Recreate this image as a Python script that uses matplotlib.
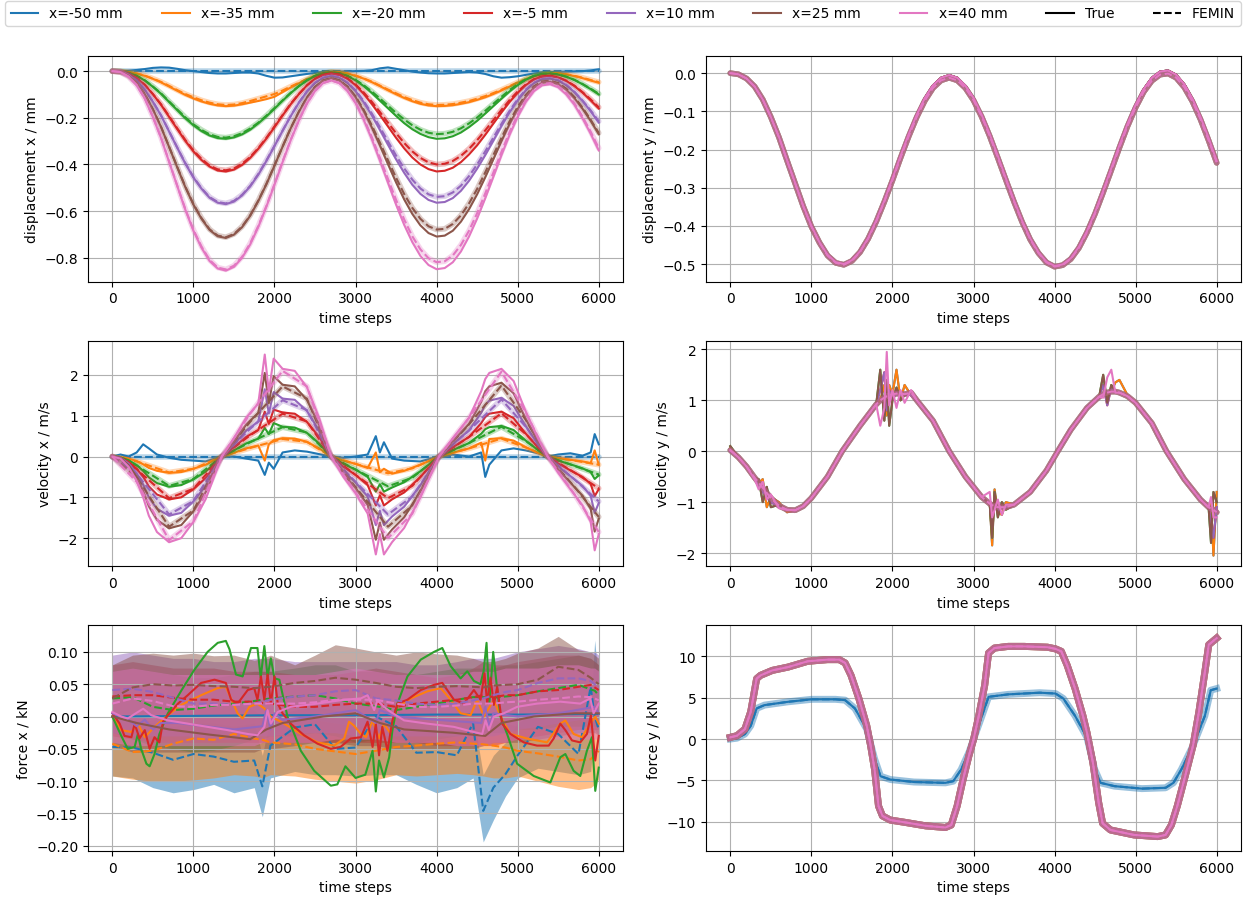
import numpy as np
import matplotlib
matplotlib.use('Agg')
import matplotlib.pyplot as plt
from matplotlib.lines import Line2D

#------------------------------------------------
# series names and colours
series = ['x=-50 mm', 'x=-35 mm', 'x=-20 mm', 'x=-5 mm', 'x=10 mm', 'x=25 mm', 'x=40 mm']
colors = ['C0', 'C1', 'C2', 'C3', 'C4', 'C5', 'C6']

#------------------------------------------------
# displacement x / mm, read every 100 time steps (order: -50, -35, -20, -5, 10, 25, 40)
t_disp = list(range(0, 6001, 100))

dispx_true = [
    [0.0, 0.0, 0.002, 0.005, 0.009, 0.014, 0.016, 0.015, 0.01, 0.004, 0.0, -0.004, -0.008, -0.01, -0.01,
     -0.008, -0.006, -0.006, -0.01, -0.02, -0.028, -0.027, -0.022, -0.017, -0.012, -0.008, -0.004, -0.002,
     -0.002, -0.001, 0.0, 0.001, 0.004, 0.012, 0.016, 0.01, 0.004, -0.002, -0.006, -0.009, -0.01,
     -0.01, -0.008, -0.006, -0.004, -0.006, -0.012, -0.022, -0.028, -0.026, -0.022, -0.016, -0.01, -0.006, -0.004,
     -0.003, -0.002, -0.001, 0.0, 0.003, 0.008],
    [0.0, -0.001, -0.004, -0.01, -0.02, -0.033, -0.048, -0.066, -0.084, -0.102, -0.117, -0.13, -0.14, -0.147, -0.15,
     -0.148, -0.142, -0.135, -0.128, -0.12, -0.11, -0.09, -0.07, -0.052, -0.035, -0.02, -0.009, -0.003,
     -0.004, -0.01, -0.02, -0.032, -0.047, -0.064, -0.082, -0.099, -0.115, -0.129, -0.14, -0.147, -0.15,
     -0.149, -0.146, -0.14, -0.133, -0.123, -0.112, -0.098, -0.083, -0.066, -0.05, -0.035, -0.022, -0.012, -0.008,
     -0.009, -0.014, -0.021, -0.03, -0.04, -0.05],
    [0.0, -0.001, -0.008, -0.02, -0.04, -0.067, -0.097, -0.132, -0.167, -0.202, -0.232, -0.257, -0.276, -0.287, -0.29,
     -0.284, -0.271, -0.251, -0.224, -0.194, -0.161, -0.127, -0.094, -0.065, -0.04, -0.021, -0.009, -0.005,
     -0.009, -0.021, -0.039, -0.064, -0.093, -0.126, -0.159, -0.192, -0.223, -0.249, -0.269, -0.283, -0.29,
     -0.288, -0.279, -0.263, -0.24, -0.213, -0.182, -0.15, -0.118, -0.087, -0.06, -0.037, -0.021, -0.012, -0.01,
     -0.015, -0.024, -0.038, -0.056, -0.077, -0.1],
    [0.0, -0.002, -0.012, -0.03, -0.059, -0.099, -0.144, -0.196, -0.248, -0.299, -0.344, -0.381, -0.409, -0.426, -0.43,
     -0.422, -0.402, -0.372, -0.333, -0.289, -0.24, -0.19, -0.142, -0.099, -0.061, -0.033, -0.016, -0.01,
     -0.016, -0.033, -0.06, -0.097, -0.14, -0.188, -0.237, -0.286, -0.331, -0.37, -0.4, -0.42, -0.43,
     -0.427, -0.414, -0.39, -0.357, -0.318, -0.273, -0.225, -0.177, -0.132, -0.093, -0.06, -0.036, -0.023, -0.02,
     -0.027, -0.042, -0.064, -0.092, -0.125, -0.16],
    [0.0, -0.003, -0.016, -0.04, -0.079, -0.131, -0.19, -0.259, -0.328, -0.396, -0.456, -0.504, -0.543, -0.564, -0.57,
     -0.559, -0.533, -0.494, -0.444, -0.385, -0.321, -0.256, -0.193, -0.136, -0.087, -0.05, -0.028, -0.02,
     -0.028, -0.05, -0.085, -0.133, -0.189, -0.251, -0.315, -0.378, -0.436, -0.487, -0.526, -0.552, -0.564,
     -0.561, -0.544, -0.513, -0.47, -0.418, -0.36, -0.298, -0.235, -0.177, -0.125, -0.082, -0.051, -0.034, -0.031,
     -0.04, -0.06, -0.09, -0.128, -0.172, -0.22],
    [0.0, -0.004, -0.02, -0.05, -0.099, -0.164, -0.239, -0.325, -0.412, -0.497, -0.572, -0.633, -0.681, -0.708, -0.715,
     -0.701, -0.669, -0.62, -0.557, -0.485, -0.405, -0.324, -0.245, -0.175, -0.114, -0.068, -0.04, -0.03,
     -0.04, -0.067, -0.112, -0.171, -0.241, -0.318, -0.398, -0.477, -0.55, -0.612, -0.661, -0.694, -0.709,
     -0.705, -0.684, -0.645, -0.592, -0.528, -0.455, -0.378, -0.3, -0.227, -0.163, -0.11, -0.071, -0.05, -0.046,
     -0.056, -0.08, -0.116, -0.161, -0.213, -0.27],
    [0.0, -0.004, -0.024, -0.06, -0.118, -0.197, -0.286, -0.389, -0.492, -0.594, -0.684, -0.757, -0.814, -0.846, -0.855,
     -0.839, -0.8, -0.743, -0.668, -0.581, -0.487, -0.39, -0.296, -0.212, -0.139, -0.085, -0.051, -0.04,
     -0.051, -0.085, -0.137, -0.208, -0.291, -0.383, -0.478, -0.572, -0.659, -0.733, -0.792, -0.831, -0.849,
     -0.844, -0.819, -0.773, -0.709, -0.632, -0.545, -0.453, -0.36, -0.273, -0.196, -0.132, -0.086, -0.061, -0.056,
     -0.069, -0.1, -0.144, -0.202, -0.268, -0.34],
]
dispx_femin = [
    [0.0, 0.0, 0.0, 0.0, 0.0, 0.0, 0.0, 0.0, 0.0, 0.0, 0.0, 0.0, 0.0, 0.0, 0.0,
     0.0, 0.0, 0.0, 0.0, 0.0, 0.0, 0.0, 0.0, 0.0, 0.0, 0.0, 0.0, 0.0,
     0.0, 0.0, 0.0, 0.0, 0.0, 0.0, 0.0, 0.0, 0.0, 0.0, 0.0, 0.0, 0.0,
     0.0, 0.0, 0.0, 0.0, 0.0, 0.0, 0.0, 0.0, 0.0, 0.0, 0.0, 0.0, 0.0, 0.0,
     0.0, 0.0, 0.0, 0.0, 0.0, 0.0],
    [0.0, -0.001, -0.004, -0.01, -0.019, -0.032, -0.046, -0.063, -0.081, -0.098, -0.112, -0.125, -0.135, -0.142, -0.145,
     -0.143, -0.137, -0.128, -0.118, -0.108, -0.098, -0.083, -0.066, -0.05, -0.034, -0.02, -0.009, -0.003,
     -0.004, -0.01, -0.019, -0.031, -0.045, -0.062, -0.079, -0.095, -0.111, -0.124, -0.135, -0.142, -0.145,
     -0.144, -0.141, -0.135, -0.128, -0.118, -0.107, -0.094, -0.08, -0.064, -0.048, -0.034, -0.021, -0.012, -0.008,
     -0.009, -0.013, -0.02, -0.028, -0.038, -0.047],
    [0.0, -0.001, -0.008, -0.02, -0.039, -0.066, -0.095, -0.13, -0.164, -0.198, -0.228, -0.252, -0.271, -0.282, -0.285,
     -0.279, -0.266, -0.246, -0.221, -0.191, -0.158, -0.125, -0.093, -0.064, -0.039, -0.02, -0.009, -0.005,
     -0.009, -0.02, -0.037, -0.06, -0.087, -0.117, -0.148, -0.179, -0.207, -0.232, -0.251, -0.264, -0.27,
     -0.268, -0.26, -0.245, -0.224, -0.199, -0.17, -0.14, -0.11, -0.081, -0.056, -0.035, -0.02, -0.012, -0.01,
     -0.014, -0.024, -0.037, -0.055, -0.075, -0.097],
    [0.0, -0.002, -0.012, -0.03, -0.059, -0.098, -0.142, -0.193, -0.245, -0.295, -0.34, -0.376, -0.405, -0.421, -0.425,
     -0.417, -0.397, -0.368, -0.33, -0.286, -0.237, -0.188, -0.14, -0.098, -0.061, -0.033, -0.016, -0.01,
     -0.015, -0.031, -0.057, -0.091, -0.131, -0.175, -0.221, -0.266, -0.308, -0.344, -0.372, -0.391, -0.4,
     -0.397, -0.385, -0.363, -0.333, -0.296, -0.254, -0.21, -0.166, -0.124, -0.087, -0.057, -0.035, -0.023, -0.02,
     -0.027, -0.041, -0.062, -0.09, -0.121, -0.155],
    [0.0, -0.003, -0.016, -0.04, -0.078, -0.13, -0.189, -0.258, -0.327, -0.394, -0.454, -0.502, -0.54, -0.561, -0.567,
     -0.556, -0.53, -0.492, -0.441, -0.383, -0.32, -0.255, -0.192, -0.135, -0.087, -0.05, -0.028, -0.02,
     -0.027, -0.049, -0.082, -0.128, -0.181, -0.24, -0.301, -0.362, -0.417, -0.465, -0.503, -0.528, -0.539,
     -0.536, -0.52, -0.491, -0.45, -0.4, -0.344, -0.285, -0.226, -0.17, -0.12, -0.079, -0.05, -0.034, -0.031,
     -0.039, -0.059, -0.088, -0.126, -0.168, -0.215],
    [0.0, -0.004, -0.02, -0.05, -0.098, -0.164, -0.238, -0.324, -0.41, -0.495, -0.57, -0.63, -0.678, -0.705, -0.712,
     -0.698, -0.666, -0.618, -0.555, -0.483, -0.404, -0.323, -0.244, -0.174, -0.113, -0.068, -0.04, -0.03,
     -0.039, -0.066, -0.108, -0.165, -0.232, -0.306, -0.382, -0.457, -0.527, -0.586, -0.633, -0.665, -0.679,
     -0.676, -0.655, -0.618, -0.567, -0.505, -0.434, -0.36, -0.286, -0.215, -0.153, -0.102, -0.065, -0.044, -0.041,
     -0.051, -0.075, -0.111, -0.156, -0.208, -0.265],
    [0.0, -0.004, -0.024, -0.06, -0.117, -0.196, -0.284, -0.387, -0.49, -0.591, -0.68, -0.752, -0.809, -0.842, -0.85,
     -0.834, -0.796, -0.738, -0.664, -0.578, -0.484, -0.387, -0.294, -0.211, -0.139, -0.085, -0.051, -0.04,
     -0.051, -0.083, -0.134, -0.201, -0.282, -0.371, -0.462, -0.552, -0.636, -0.708, -0.764, -0.802, -0.819,
     -0.815, -0.79, -0.745, -0.684, -0.609, -0.524, -0.435, -0.346, -0.261, -0.186, -0.125, -0.08, -0.055, -0.051,
     -0.064, -0.094, -0.138, -0.195, -0.259, -0.33],
]

#------------------------------------------------
# displacement y / mm (all positions practically on top of each other)
dispy_true = [0.0, -0.003, -0.014, -0.035, -0.069, -0.115, -0.167, -0.228, -0.288, -0.348, -0.4, -0.443, -0.476, -0.495, -0.5,
              -0.49, -0.467, -0.432, -0.386, -0.334, -0.276, -0.217, -0.16, -0.109, -0.065, -0.032, -0.012, -0.005,
              -0.012, -0.033, -0.065, -0.109, -0.16, -0.217, -0.276, -0.334, -0.387, -0.433, -0.469, -0.494, -0.505,
              -0.501, -0.485, -0.455, -0.414, -0.364, -0.308, -0.249, -0.189, -0.133, -0.083, -0.042, -0.012, 0.004, 0.007,
              -0.004, -0.029, -0.067, -0.115, -0.17, -0.23]
dispy_femin = [0.0, -0.003, -0.014, -0.035, -0.069, -0.115, -0.168, -0.229, -0.289, -0.349, -0.402, -0.444, -0.478, -0.497, -0.502,
               -0.492, -0.469, -0.434, -0.389, -0.337, -0.281, -0.222, -0.166, -0.115, -0.072, -0.039, -0.019, -0.012,
               -0.019, -0.039, -0.071, -0.114, -0.165, -0.222, -0.28, -0.337, -0.39, -0.436, -0.471, -0.496, -0.507,
               -0.503, -0.487, -0.458, -0.417, -0.368, -0.312, -0.254, -0.195, -0.139, -0.09, -0.049, -0.02, -0.004, -0.001,
               -0.012, -0.037, -0.074, -0.121, -0.176, -0.235]

#------------------------------------------------
# velocity x / m/s
t_vx = [0, 100, 200, 300, 380, 450, 550, 700, 850, 1000, 1150, 1350, 1500, 1650, 1800, 1880, 1930, 1990, 2100, 2250,
        2400, 2550, 2700, 2850, 3000, 3150, 3250, 3300, 3350, 3450, 3600, 3800, 4030, 4200, 4400, 4550, 4600, 4650, 4800, 4950,
        5100, 5250, 5370, 5500, 5650, 5800, 5900, 5950, 6000]
velx_true = [
    [0.0, 0.05, 0.0, 0.1, 0.3, 0.2, 0.05, -0.03, -0.08, -0.1, -0.12, 0.0, 0.0, -0.05, -0.1, -0.45, -0.15, -0.3, 0.1, 0.15,
     0.12, 0.06, 0.0, -0.03, 0.0, 0.05, 0.5, 0.1, 0.35, -0.05, -0.1, -0.12, 0.0, 0.05, 0.0, 0.1, -0.5, -0.2, 0.15, 0.2,
     0.15, 0.08, 0.0, 0.05, 0.08, 0.02, 0.1, 0.55, 0.3],
    [0.0, -0.01, -0.05, -0.11, -0.19, -0.28, -0.35, -0.4, -0.38, -0.3, -0.2, 0.0, 0.09, 0.2, 0.27, -0.1, 0.3, 0.4, 0.45, 0.44,
     0.36, 0.2, 0.0, -0.1, -0.18, -0.28, 0.1, -0.38, -0.3, -0.42, -0.35, -0.2, 0.0, 0.09, 0.2, 0.34, -0.1, 0.43, 0.45, 0.39,
     0.23, 0.09, 0.0, -0.04, -0.08, -0.12, -0.16, 0.15, -0.2],
    [0.0, -0.02, -0.09, -0.21, -0.35, -0.51, -0.65, -0.74, -0.7, -0.56, -0.37, 0.0, 0.15, 0.32, 0.44, 0.7, 0.55, 0.82, 0.73, 0.71,
     0.58, 0.32, 0.0, -0.18, -0.32, -0.5, -0.86, -0.68, -0.86, -0.76, -0.63, -0.36, 0.0, 0.16, 0.33, 0.56, 0.67, 0.72, 0.75, 0.65,
     0.39, 0.16, 0.0, -0.1, -0.19, -0.29, -0.38, -0.55, -0.46],
    [0.0, -0.03, -0.13, -0.3, -0.5, -0.73, -0.93, -1.05, -1.0, -0.8, -0.53, 0.0, 0.23, 0.48, 0.65, 1.1, 0.8, 1.15, 1.08, 1.05,
     0.85, 0.48, 0.0, -0.25, -0.45, -0.7, -1.2, -0.95, -1.2, -1.05, -0.88, -0.5, 0.0, 0.23, 0.48, 0.82, 0.97, 1.05, 1.1, 0.94,
     0.56, 0.23, 0.0, -0.17, -0.34, -0.5, -0.67, -0.97, -0.8],
    [0.0, -0.03, -0.17, -0.41, -0.69, -1.0, -1.28, -1.45, -1.38, -1.1, -0.72, 0.0, 0.3, 0.63, 0.86, 1.65, 1.06, 1.58, 1.42, 1.39,
     1.12, 0.63, 0.0, -0.35, -0.63, -0.98, -1.68, -1.33, -1.68, -1.47, -1.23, -0.7, 0.0, 0.3, 0.64, 1.07, 1.27, 1.37, 1.44, 1.24,
     0.74, 0.3, 0.0, -0.24, -0.48, -0.72, -0.96, -1.38, -1.14],
    [0.0, -0.04, -0.21, -0.5, -0.84, -1.22, -1.55, -1.76, -1.68, -1.34, -0.88, 0.0, 0.37, 0.78, 1.07, 2.05, 1.31, 1.97, 1.76, 1.72,
     1.39, 0.78, 0.0, -0.43, -0.77, -1.19, -2.04, -1.62, -2.04, -1.79, -1.49, -0.85, 0.0, 0.38, 0.8, 1.34, 1.6, 1.72, 1.81, 1.55,
     0.92, 0.38, 0.0, -0.32, -0.64, -0.96, -1.28, -1.84, -1.52],
    [0.0, -0.05, -0.25, -0.6, -1.0, -1.45, -1.85, -2.1, -2.0, -1.6, -1.05, 0.0, 0.45, 0.95, 1.3, 2.5, 1.6, 2.4, 2.15, 2.1,
     1.7, 0.95, 0.0, -0.5, -0.9, -1.4, -2.4, -1.9, -2.4, -2.1, -1.75, -1.0, 0.0, 0.45, 0.95, 1.6, 1.9, 2.05, 2.15, 1.85,
     1.1, 0.45, 0.0, -0.4, -0.8, -1.2, -1.6, -2.3, -1.9],
]
t_vx_femin = [0, 300, 700, 1000, 1350, 1700, 2100, 2400, 2700, 3000, 3400, 3700, 4030, 4400, 4800, 5100, 5370, 5700, 6000]
velx_femin = [
    [0.0, 0.0, 0.0, 0.0, 0.0, 0.0, 0.0, 0.0, 0.0, 0.0, 0.0, 0.0, 0.0, 0.0, 0.0, 0.0, 0.0, 0.0, 0.0],
    [0.0, -0.12, -0.39, -0.3, 0.0, 0.21, 0.43, 0.36, 0.0, -0.18, -0.41, -0.29, 0.0, 0.2, 0.44, 0.22, 0.0, -0.1, -0.2],
    [0.0, -0.22, -0.72, -0.55, 0.0, 0.35, 0.72, 0.59, 0.0, -0.32, -0.73, -0.52, 0.0, 0.33, 0.73, 0.38, 0.0, -0.23, -0.44],
    [0.0, -0.31, -1.02, -0.79, 0.0, 0.52, 1.05, 0.86, 0.0, -0.45, -1.02, -0.72, 0.0, 0.48, 1.06, 0.55, 0.0, -0.39, -0.78],
    [0.0, -0.42, -1.42, -1.09, 0.0, 0.68, 1.38, 1.14, 0.0, -0.62, -1.42, -0.98, 0.0, 0.64, 1.4, 0.73, 0.0, -0.56, -1.1],
    [0.0, -0.51, -1.72, -1.32, 0.0, 0.85, 1.72, 1.42, 0.0, -0.75, -1.72, -1.2, 0.0, 0.79, 1.74, 0.9, 0.0, -0.74, -1.48],
    [0.0, -0.62, -2.05, -1.58, 0.0, 1.05, 2.1, 1.72, 0.0, -0.88, -2.0, -1.4, 0.0, 0.95, 2.08, 1.08, 0.0, -0.92, -1.85],
]

#------------------------------------------------
# velocity y / m/s
t_vy = [0, 100, 200, 300, 350, 400, 450, 500, 600, 700, 800, 900, 1000, 1200, 1380, 1600, 1800, 1850, 1900, 1930, 1960,
        2000, 2050, 2100, 2150, 2230, 2300, 2500, 2700, 2900, 3100, 3200, 3230, 3260, 3300, 3350, 3400, 3500, 3700, 3900, 4040,
        4200, 4400, 4550, 4600, 4650, 4700, 4750, 4800, 4900, 5000, 5200, 5380, 5600, 5800, 5900, 5930, 5960, 6000]
vy_base = [0.02, -0.12, -0.3, -0.52, -0.62, -0.72, -0.82, -0.92, -1.07, -1.15, -1.16, -1.08,
           -0.92, -0.5, 0.0, 0.5, 0.92, 1.0, 1.05, 1.08, 1.1,
           1.12, 1.13, 1.13, 1.12, 1.15, 1.0, 0.6, 0.0, -0.5, -0.9,
           -1.03, -1.06, -1.08, -1.1, -1.1, -1.1, -1.05, -0.8, -0.38, 0.0,
           0.42, 0.85, 1.07, 1.12, 1.15, 1.17, 1.17, 1.15, 1.08, 0.95,
           0.55, 0.0, -0.55, -0.95, -1.1, -1.13, -1.15, -1.2]
vy_blue = [0.08, -0.12, -0.3, -0.52, -0.62, -0.55, -1.1, -0.9, -1.0, -1.2, -1.16, -1.08,
           -0.92, -0.5, 0.0, 0.5, 0.92, 1.0, 1.3, 0.7, 1.3,
           1.12, 1.6, 1.0, 1.3, 1.1, 1.0, 0.6, 0.0, -0.5, -0.9,
           -1.03, -1.85, -0.75, -1.2, -1.25, -1.0, -1.05, -0.8, -0.38, 0.0,
           0.42, 0.85, 1.07, 1.12, 1.1, 1.17, 1.35, 1.4, 1.1, 0.95,
           0.55, 0.0, -0.55, -0.95, -1.1, -1.0, -2.05, -0.8]
vy_green = [0.1, -0.12, -0.3, -0.52, -0.55, -1.0, -0.7, -1.1, -1.05, -1.15, -1.16, -1.08,
            -0.92, -0.5, 0.0, 0.5, 0.92, 1.6, 0.6, 1.4, 0.5,
            1.0, 1.25, 1.0, 1.1, 1.15, 1.0, 0.6, 0.0, -0.5, -0.9,
            -1.03, -1.7, -0.8, -1.3, -1.0, -1.15, -1.05, -0.8, -0.38, 0.0,
            0.42, 0.85, 1.07, 1.5, 0.95, 1.3, 1.17, 1.15, 1.08, 0.95,
            0.55, 0.0, -0.55, -0.95, -1.1, -1.8, -0.8, -1.0]
vy_red = [0.0, -0.12, -0.3, -0.52, -0.7, -0.8, -0.9, -1.0, -1.1, -1.15, -1.16, -1.08,
          -0.92, -0.5, 0.0, 0.5, 0.92, 1.2, 1.55, 0.8, 1.2,
          1.0, 1.15, 1.1, 1.12, 1.1, 1.0, 0.6, 0.0, -0.5, -0.9,
          -1.03, -1.5, -0.9, -1.2, -1.1, -1.1, -1.05, -0.8, -0.38, 0.0,
          0.42, 0.85, 1.07, 1.3, 0.9, 1.25, 1.17, 1.15, 1.08, 0.95,
          0.55, 0.0, -0.55, -0.95, -1.1, -1.4, -1.7, -1.1]
vy_pink = [0.02, -0.12, -0.3, -0.55, -0.75, -0.6, -0.95, -0.85, -1.12, -1.15, -1.16, -1.08,
           -0.92, -0.5, 0.0, 0.5, 0.92, 0.5, 0.85, 1.95, 0.9,
           1.2, 0.85, 1.2, 0.95, 1.2, 1.0, 0.6, 0.0, -0.5, -0.9,
           -0.8, -1.3, -1.15, -0.95, -1.25, -1.05, -1.05, -0.8, -0.38, 0.0,
           0.42, 0.85, 1.07, 1.05, 1.45, 1.6, 1.15, 1.15, 1.08, 0.95,
           0.55, 0.0, -0.55, -0.95, -1.1, -0.9, -1.3, -1.3]
vely_true = [vy_blue, vy_blue, vy_green, vy_red, vy_red, vy_green, vy_pink]

#------------------------------------------------
# force x / kN  -- True curves, each with its own sample times
fx_true_t = [
    [0, 1000, 2000, 3000, 4000, 5000, 6000],
    [0, 110, 235, 315, 400, 520, 685, 850, 1095, 1300, 1400, 1480, 1545, 1607, 1690, 1790, 1875, 1955, 2120, 2325,
     2530, 2735, 2860, 2920, 2980, 3066, 3128, 3210, 3290, 3350, 3435, 3517, 3681, 3886, 4050, 4173, 4296, 4419, 4501, 4583,
     4706, 4788, 4911, 5116, 5362, 5526, 5588, 5690, 5793, 5895, 5957, 6000],
    [0, 110, 190, 275, 315, 355, 420, 460, 520, 580, 685, 850, 1010, 1175, 1300, 1400, 1445, 1525, 1607, 1710,
     1790, 1830, 1875, 1915, 1955, 2000, 2060, 2160, 2325, 2490, 2695, 2775, 2875, 3000, 3120, 3210, 3250, 3290, 3350, 3415,
     3455, 3517, 3640, 3804, 3968, 4070, 4173, 4296, 4378, 4460, 4540, 4580, 4616, 4650, 4698, 4740, 4788, 4870, 4993, 5198,
     5403, 5526, 5588, 5690, 5772, 5854, 5916, 5957, 6000],
    [0, 90, 150, 235, 275, 335, 400, 460, 520, 580, 625, 685, 810, 930, 1095, 1260, 1400, 1465, 1545, 1670,
     1750, 1790, 1833, 1875, 1915, 1955, 2000, 2040, 2100, 2200, 2365, 2530, 2695, 2815, 2940, 3066, 3148, 3210, 3250, 3290,
     3330, 3394, 3455, 3517, 3640, 3804, 3968, 4070, 4214, 4337, 4460, 4542, 4591, 4624, 4665, 4706, 4747, 4808, 4911, 5075,
     5239, 5383, 5444, 5526, 5588, 5670, 5772, 5854, 5903, 5957, 6000],
    [0, 200, 300, 400, 500, 600, 800, 1500, 1850, 1900, 1950, 2000, 2100, 2500, 3000, 3250, 3300, 3500, 4000, 4550,
     4600, 4650, 4700, 5000, 5500, 5950, 6000],
    [0, 300, 700, 1200, 1700, 1900, 2100, 2600, 3000, 3300, 3600, 4200, 4600, 4800, 5200, 5700, 6000],
    [0, 110, 190, 315, 380, 480, 685, 930, 1175, 1420, 1670, 1790, 1875, 1915, 1955, 2040, 2200, 2530, 2860, 3066,
     3148, 3230, 3271, 3350, 3435, 3599, 3886, 4214, 4460, 4563, 4604, 4644, 4706, 4829, 4993, 5239, 5526, 5772, 5895, 5936,
     6000],
]
fx_true = [
    [0.0, 0.001, 0.002, 0.002, 0.003, 0.003, 0.004],
    [0.0, -0.021, -0.024, -0.011, -0.032, -0.016, 0.002, 0.018, 0.033, 0.044, 0.046, 0.023, 0.005, -0.003, 0.015, 0.02, 0.0125, 0.0, -0.011, -0.027,
     -0.04, -0.045, -0.034, -0.008, -0.014, -0.027, -0.032, -0.006, -0.034, -0.011, -0.027, 0.015, 0.028, 0.039, 0.044, 0.026, 0.005, 0.002, 0.026, 0.0,
     0.026, 0.0, -0.027, -0.034, -0.04, -0.011, -0.006, -0.027, -0.032, -0.011, 0.0, -0.011],
    [0.0, -0.03, -0.05, -0.047, -0.027, -0.05, -0.073, -0.077, -0.058, -0.027, 0.005, 0.04, 0.072, 0.1, 0.114, 0.117, 0.104, 0.065, 0.062, 0.106,
     0.106, 0.06, 0.109, 0.062, 0.09, 0.059, 0.057, 0.0, -0.053, -0.084, -0.107, -0.105, -0.077, -0.095, -0.09, -0.053, -0.116, -0.068, -0.094, -0.063,
     -0.021, 0.02, 0.062, 0.088, 0.1, 0.106, 0.078, 0.059, 0.07, 0.055, 0.05, 0.07, 0.114, 0.02, 0.1, 0.05, 0.0, -0.027, -0.073, -0.092,
     -0.102, -0.063, -0.058, -0.084, -0.092, -0.053, -0.032, -0.115, -0.079],
    [0.005, -0.011, -0.03, -0.032, -0.011, -0.034, -0.021, -0.05, -0.032, -0.04, -0.008, 0.002, 0.02, 0.033, 0.052, 0.057, 0.052, 0.026, 0.02, 0.041,
     0.044, 0.026, 0.062, 0.026, 0.065, 0.02, 0.062, 0.02, 0.005, -0.011, -0.029, -0.042, -0.05, -0.047, -0.034, -0.032, -0.008, -0.047, -0.011, -0.06,
     -0.016, -0.053, -0.006, 0.02, 0.026, 0.041, 0.049, 0.052, 0.026, 0.02, 0.041, 0.026, 0.067, 0.02, 0.06, 0.018, 0.046, -0.011, -0.027, -0.04,
     -0.045, -0.045, -0.034, -0.011, -0.021, -0.037, -0.04, -0.027, 0.002, -0.068, -0.03],
    [0.005, -0.005, -0.015, -0.005, -0.02, -0.01, -0.01, -0.02, -0.015, 0.01, -0.02, 0.005, -0.005, 0.0, 0.01, -0.01, 0.01, 0.0, -0.005, -0.01,
     0.015, -0.015, 0.005, 0.0, 0.005, 0.015, 0.005],
    [0.0, -0.01, -0.02, -0.028, -0.035, -0.02, -0.01, 0.0, 0.005, -0.01, -0.02, -0.025, -0.03, -0.01, 0.0, 0.005, 0.005],
    [0.007, 0.0, -0.003, 0.007, 0.012, 0.002, -0.006, -0.011, -0.016, -0.021, -0.027, -0.029, -0.016, 0.01, -0.011, 0.007, 0.015, 0.02, 0.026, 0.028,
     0.033, 0.01, 0.025, 0.015, 0.007, -0.006, -0.011, -0.016, -0.024, -0.027, -0.006, -0.021, 0.0, 0.005, 0.015, 0.02, 0.023, 0.02, 0.028, 0.005,
     0.02],
]

# force x -- FEMIN mean and band (lower / upper)
t_fx_femin = [0, 250, 500, 750, 1000, 1250, 1500, 1750, 1850, 1950, 2250, 2500, 2750, 3000, 3250, 3500, 3750, 4000, 4250, 4450,
              4575, 4700, 4850, 5000, 5250, 5500, 5750, 5900, 5950, 6000]
fx_femin = [
    [-0.047, -0.048, -0.056, -0.067, -0.058, -0.062, -0.07, -0.068, -0.108, -0.045, -0.017, -0.012, -0.05, -0.048, 0.0, -0.015, -0.056, -0.055, -0.06, -0.01,
     -0.146, -0.11, -0.089, -0.06, -0.016, -0.027, -0.058, 0.046, 0.0, -0.02],
    [-0.042, -0.055, -0.053, -0.042, -0.034, -0.036, -0.027, -0.034, -0.036, -0.04, -0.043, -0.05, -0.054, -0.058, -0.053, -0.047, -0.045, -0.042, -0.04, -0.042,
     -0.043, -0.045, -0.048, -0.053, -0.057, -0.062, -0.068, -0.066, -0.06, -0.053],
    [0.028, 0.03, 0.015, 0.01, 0.012, 0.017, 0.02, 0.024, 0.026, 0.028, 0.031, 0.033, 0.028, 0.02, 0.016, 0.01, 0.015, 0.02, 0.026, 0.03,
     0.03, 0.029, 0.031, 0.033, 0.039, 0.044, 0.049, 0.042, 0.04, 0.033],
    [0.031, 0.033, 0.033, 0.029, 0.026, 0.026, 0.023, 0.023, 0.021, 0.02, 0.015, 0.015, 0.018, 0.02, 0.02, 0.015, 0.02, 0.023, 0.026, 0.03,
     0.033, 0.03, 0.033, 0.033, 0.039, 0.041, 0.046, 0.049, 0.045, 0.041],
    [0.041, 0.043, 0.038, 0.029, 0.02, 0.02, 0.018, 0.02, 0.023, 0.026, 0.031, 0.033, 0.039, 0.041, 0.028, 0.025, 0.02, 0.018, 0.02, 0.025,
     0.028, 0.033, 0.038, 0.041, 0.052, 0.059, 0.059, 0.055, 0.05, 0.046],
    [0.028, 0.045, 0.05, 0.048, 0.049, 0.047, 0.046, 0.044, 0.045, 0.046, 0.052, 0.055, 0.06, 0.057, 0.052, 0.046, 0.044, 0.046, 0.047, 0.046,
     0.045, 0.048, 0.049, 0.05, 0.057, 0.077, 0.072, 0.06, 0.055, 0.05],
    [0.02, 0.028, 0.024, 0.016, 0.015, 0.018, 0.018, 0.02, 0.02, 0.02, 0.02, 0.022, 0.026, 0.026, 0.026, 0.02, 0.015, 0.015, 0.017, 0.02,
     0.02, 0.02, 0.022, 0.023, 0.026, 0.028, 0.031, 0.03, 0.028, 0.025],
]
fx_lo = [
    [-0.092, -0.095, -0.11, -0.118, -0.113, -0.105, -0.118, -0.11, -0.155, -0.095, -0.085, -0.09, -0.09, -0.092, -0.09, -0.09, -0.105, -0.118, -0.11, -0.095,
     -0.194, -0.16, -0.123, -0.095, -0.08, -0.085, -0.09, -0.085, -0.02, -0.03],
    [-0.092, -0.097, -0.1, -0.1, -0.098, -0.095, -0.09, -0.092, -0.095, -0.09, -0.092, -0.097, -0.1, -0.103, -0.098, -0.09, -0.092, -0.09, -0.088, -0.09,
     -0.092, -0.095, -0.095, -0.092, -0.1, -0.108, -0.113, -0.11, -0.105, -0.097],
    [-0.025, -0.035, -0.045, -0.05, -0.055, -0.052, -0.045, -0.035, -0.035, -0.03, -0.03, -0.025, -0.03, -0.04, -0.035, -0.035, -0.04, -0.035, -0.03, -0.025,
     -0.025, -0.025, -0.025, -0.02, -0.02, -0.015, -0.015, -0.015, -0.015, -0.015],
    [-0.03, -0.035, -0.04, -0.04, -0.04, -0.04, -0.04, -0.04, -0.04, -0.04, -0.04, -0.04, -0.04, -0.04, -0.04, -0.04, -0.04, -0.045, -0.045, -0.045,
     -0.045, -0.045, -0.04, -0.035, -0.03, -0.025, -0.02, -0.02, -0.02, -0.02],
    [-0.025, -0.03, -0.03, -0.03, -0.03, -0.035, -0.035, -0.03, -0.03, -0.03, -0.025, -0.025, -0.025, -0.03, -0.03, -0.03, -0.03, -0.03, -0.03, -0.03,
     -0.03, -0.03, -0.025, -0.02, -0.015, -0.01, -0.005, -0.005, -0.005, -0.01],
    [-0.045, -0.055, -0.055, -0.055, -0.055, -0.055, -0.055, -0.055, -0.05, -0.05, -0.045, -0.04, -0.04, -0.045, -0.045, -0.05, -0.05, -0.05, -0.05, -0.05,
     -0.045, -0.04, -0.04, -0.04, -0.035, -0.03, -0.025, -0.025, -0.025, -0.03],
    [-0.04, -0.045, -0.045, -0.045, -0.045, -0.045, -0.045, -0.045, -0.04, -0.04, -0.04, -0.04, -0.035, -0.035, -0.035, -0.04, -0.04, -0.04, -0.045, -0.045,
     -0.045, -0.04, -0.04, -0.035, -0.035, -0.035, -0.035, -0.035, -0.035, -0.035],
]
fx_hi = [
    [-0.005, -0.005, -0.01, -0.015, -0.01, -0.01, -0.015, -0.01, -0.06, 0.0, 0.01, 0.015, 0.01, 0.0, 0.005, 0.01, 0.0, -0.01, -0.01, 0.005,
     -0.09, -0.06, -0.04, -0.01, 0.01, 0.01, 0.0, 0.01, 0.118, 0.05],
    [-0.005, -0.01, -0.005, 0.005, 0.01, 0.015, 0.02, 0.01, 0.0, 0.005, 0.0, -0.005, -0.01, -0.015, -0.01, -0.005, 0.0, 0.005, 0.0, -0.005,
     -0.01, -0.005, -0.01, -0.015, -0.02, -0.02, -0.025, -0.02, -0.015, -0.01],
    [0.07, 0.075, 0.07, 0.065, 0.06, 0.06, 0.065, 0.07, 0.07, 0.07, 0.075, 0.08, 0.08, 0.07, 0.07, 0.065, 0.065, 0.07, 0.075, 0.075,
     0.075, 0.075, 0.08, 0.08, 0.085, 0.09, 0.095, 0.09, 0.085, 0.08],
    [0.08, 0.085, 0.08, 0.075, 0.075, 0.075, 0.07, 0.07, 0.07, 0.07, 0.065, 0.065, 0.065, 0.07, 0.075, 0.07, 0.065, 0.06, 0.065, 0.075,
     0.085, 0.08, 0.08, 0.085, 0.09, 0.095, 0.095, 0.09, 0.085, 0.08],
    [0.095, 0.1, 0.095, 0.09, 0.09, 0.085, 0.085, 0.09, 0.09, 0.09, 0.085, 0.085, 0.085, 0.085, 0.085, 0.085, 0.08, 0.08, 0.085, 0.09,
     0.09, 0.09, 0.095, 0.1, 0.105, 0.11, 0.105, 0.1, 0.1, 0.095],
    [0.08, 0.095, 0.098, 0.095, 0.098, 0.094, 0.095, 0.087, 0.09, 0.095, 0.08, 0.095, 0.111, 0.106, 0.1, 0.095, 0.1, 0.097, 0.095, 0.09,
     0.085, 0.085, 0.09, 0.098, 0.106, 0.124, 0.103, 0.1, 0.095, 0.09],
    [0.07, 0.075, 0.07, 0.065, 0.065, 0.065, 0.065, 0.065, 0.065, 0.065, 0.065, 0.065, 0.07, 0.075, 0.07, 0.065, 0.065, 0.065, 0.065, 0.07,
     0.07, 0.07, 0.075, 0.075, 0.075, 0.08, 0.08, 0.075, 0.075, 0.07],
]

#------------------------------------------------
# force y / kN  (-50 mm on its own, the other six lie on one curve)
fy_blue_t = [0, 82, 180, 252, 325, 422, 713, 1004, 1295, 1416, 1537, 1683, 1780, 1853, 1974, 2265, 2653, 2750, 2847, 2944,
             3002, 3090, 3186, 3429, 3817, 4011, 4108, 4253, 4399, 4496, 4568, 4738, 5078, 5369, 5466, 5563, 5708, 5854, 5927, 6000]
fy_blue = [0.0, 0.1, 0.6, 1.6, 3.7, 4.1, 4.5, 4.8, 4.8, 4.7, 3.7, 1.2, -2.4, -4.5, -4.9, -5.2, -5.3, -5.1, -3.7, -1.6,
           0.0, 2.4, 5.1, 5.4, 5.6, 5.5, 4.9, 2.8, 0.2, -3.7, -5.3, -5.7, -6.0, -5.9, -5.3, -3.7, -0.8, 2.8, 5.9, 6.1]
fy_rest_t = [0, 82, 180, 252, 325, 373, 519, 713, 955, 1198, 1343, 1416, 1489, 1586, 1683, 1731, 1780, 1828, 1877, 1974,
             2168, 2410, 2653, 2725, 2798, 2871, 2944, 3002, 3065, 3138, 3186, 3259, 3429, 3623, 3914, 4011, 4083, 4156, 4253, 4350,
             4399, 4472, 4544, 4593, 4690, 4981, 5272, 5369, 5441, 5514, 5611, 5708, 5781, 5854, 5902, 6000]
fy_rest = [0.2, 0.4, 1.2, 3.3, 7.3, 7.7, 8.3, 8.7, 9.4, 9.6, 9.6, 9.2, 7.7, 4.9, 1.6, -0.8, -3.7, -8.1, -9.3, -9.8,
           -10.1, -10.5, -10.7, -10.4, -8.1, -4.9, -2.0, 0.0, 2.8, 6.5, 10.4, 11.0, 11.2, 11.2, 11.1, 10.9, 10.6, 8.9, 6.1, 2.8,
           0.8, -2.8, -7.7, -10.2, -11.0, -11.6, -11.8, -11.6, -10.4, -8.1, -4.5, -0.8, 3.3, 8.1, 11.4, 12.2]

#------------------------------------------------
# figure
fig, axs = plt.subplots(3, 2, figsize=(12.47, 9.03), dpi=100)
fig.subplots_adjust(left=0.0706, right=0.9952, bottom=0.0565, top=0.9369, wspace=0.155, hspace=0.262)

halo = dict(lw=4, alpha=0.3, solid_capstyle='round')

# displacement x
ax = axs[0, 0]
for i in range(7):
    ax.plot(t_disp, dispx_true[i], color=colors[i])
    ax.plot(t_disp, dispx_femin[i], color=colors[i], ls='--')
    ax.plot(t_disp, dispx_femin[i], color=colors[i], **halo)
ax.set_ylim(-0.902, 0.065)
ax.set_ylabel('displacement x / mm')

# displacement y
ax = axs[0, 1]
for i in range(7):
    ax.plot(t_disp, dispy_true, color=colors[i])
    ax.plot(t_disp, dispy_femin, color=colors[i], ls='--')
    ax.plot(t_disp, dispy_femin, color=colors[i], **halo)
ax.set_ylim(-0.546, 0.045)
ax.set_ylabel('displacement y / mm')

# velocity x
ax = axs[1, 0]
for i in range(7):
    ax.plot(t_vx, velx_true[i], color=colors[i])
    ax.plot(t_vx_femin, velx_femin[i], color=colors[i], ls='--')
    ax.plot(t_vx_femin, velx_femin[i], color=colors[i], **halo)
ax.set_ylim(-2.69, 2.84)
ax.set_ylabel('velocity x / m/s')

# velocity y
ax = axs[1, 1]
for i in range(7):
    ax.plot(t_vy, vely_true[i], color=colors[i])
    ax.plot(t_vy, vy_base, color=colors[i], ls='--')
    ax.plot(t_vy, vy_base, color=colors[i], **halo)
ax.set_ylim(-2.26, 2.17)
ax.set_ylabel('velocity y / m/s')

# force x
ax = axs[2, 0]
for i in range(7):
    ax.plot(fx_true_t[i], fx_true[i], color=colors[i])
    ax.plot(t_fx_femin, fx_femin[i], color=colors[i], ls='--')
    ax.fill_between(t_fx_femin, fx_lo[i], fx_hi[i], color=colors[i], alpha=0.5, lw=0)
ax.set_ylim(-0.208, 0.141)
ax.set_ylabel('force x / kN')

# force y
ax = axs[2, 1]
for i in range(7):
    if i == 0:
        tt, yy = fy_blue_t, fy_blue
    else:
        tt, yy = fy_rest_t, fy_rest
    ax.plot(tt, yy, color=colors[i])
    ax.plot(tt, yy, color=colors[i], ls='--')
    ax.plot(tt, yy, color=colors[i], lw=5, alpha=0.45)
ax.set_ylim(-13.54, 13.74)
ax.set_ylabel('force y / kN')

for ax in axs.flat:
    ax.set_xlim(-300, 6300)
    ax.set_xticks([0, 1000, 2000, 3000, 4000, 5000, 6000])
    ax.set_xlabel('time steps')
    ax.grid(True)

# legend on top
handles = [Line2D([], [], color=colors[i]) for i in range(7)]
handles.append(Line2D([], [], color='k'))
handles.append(Line2D([], [], color='k', ls='--'))
names = series + ['True', 'FEMIN']
fig.legend(handles, names, loc='upper left', ncol=9, mode='expand',
           bbox_to_anchor=(0.004, 0.998, 0.991, 0.0), borderaxespad=0)

plt.savefig('out.png', dpi=100)
